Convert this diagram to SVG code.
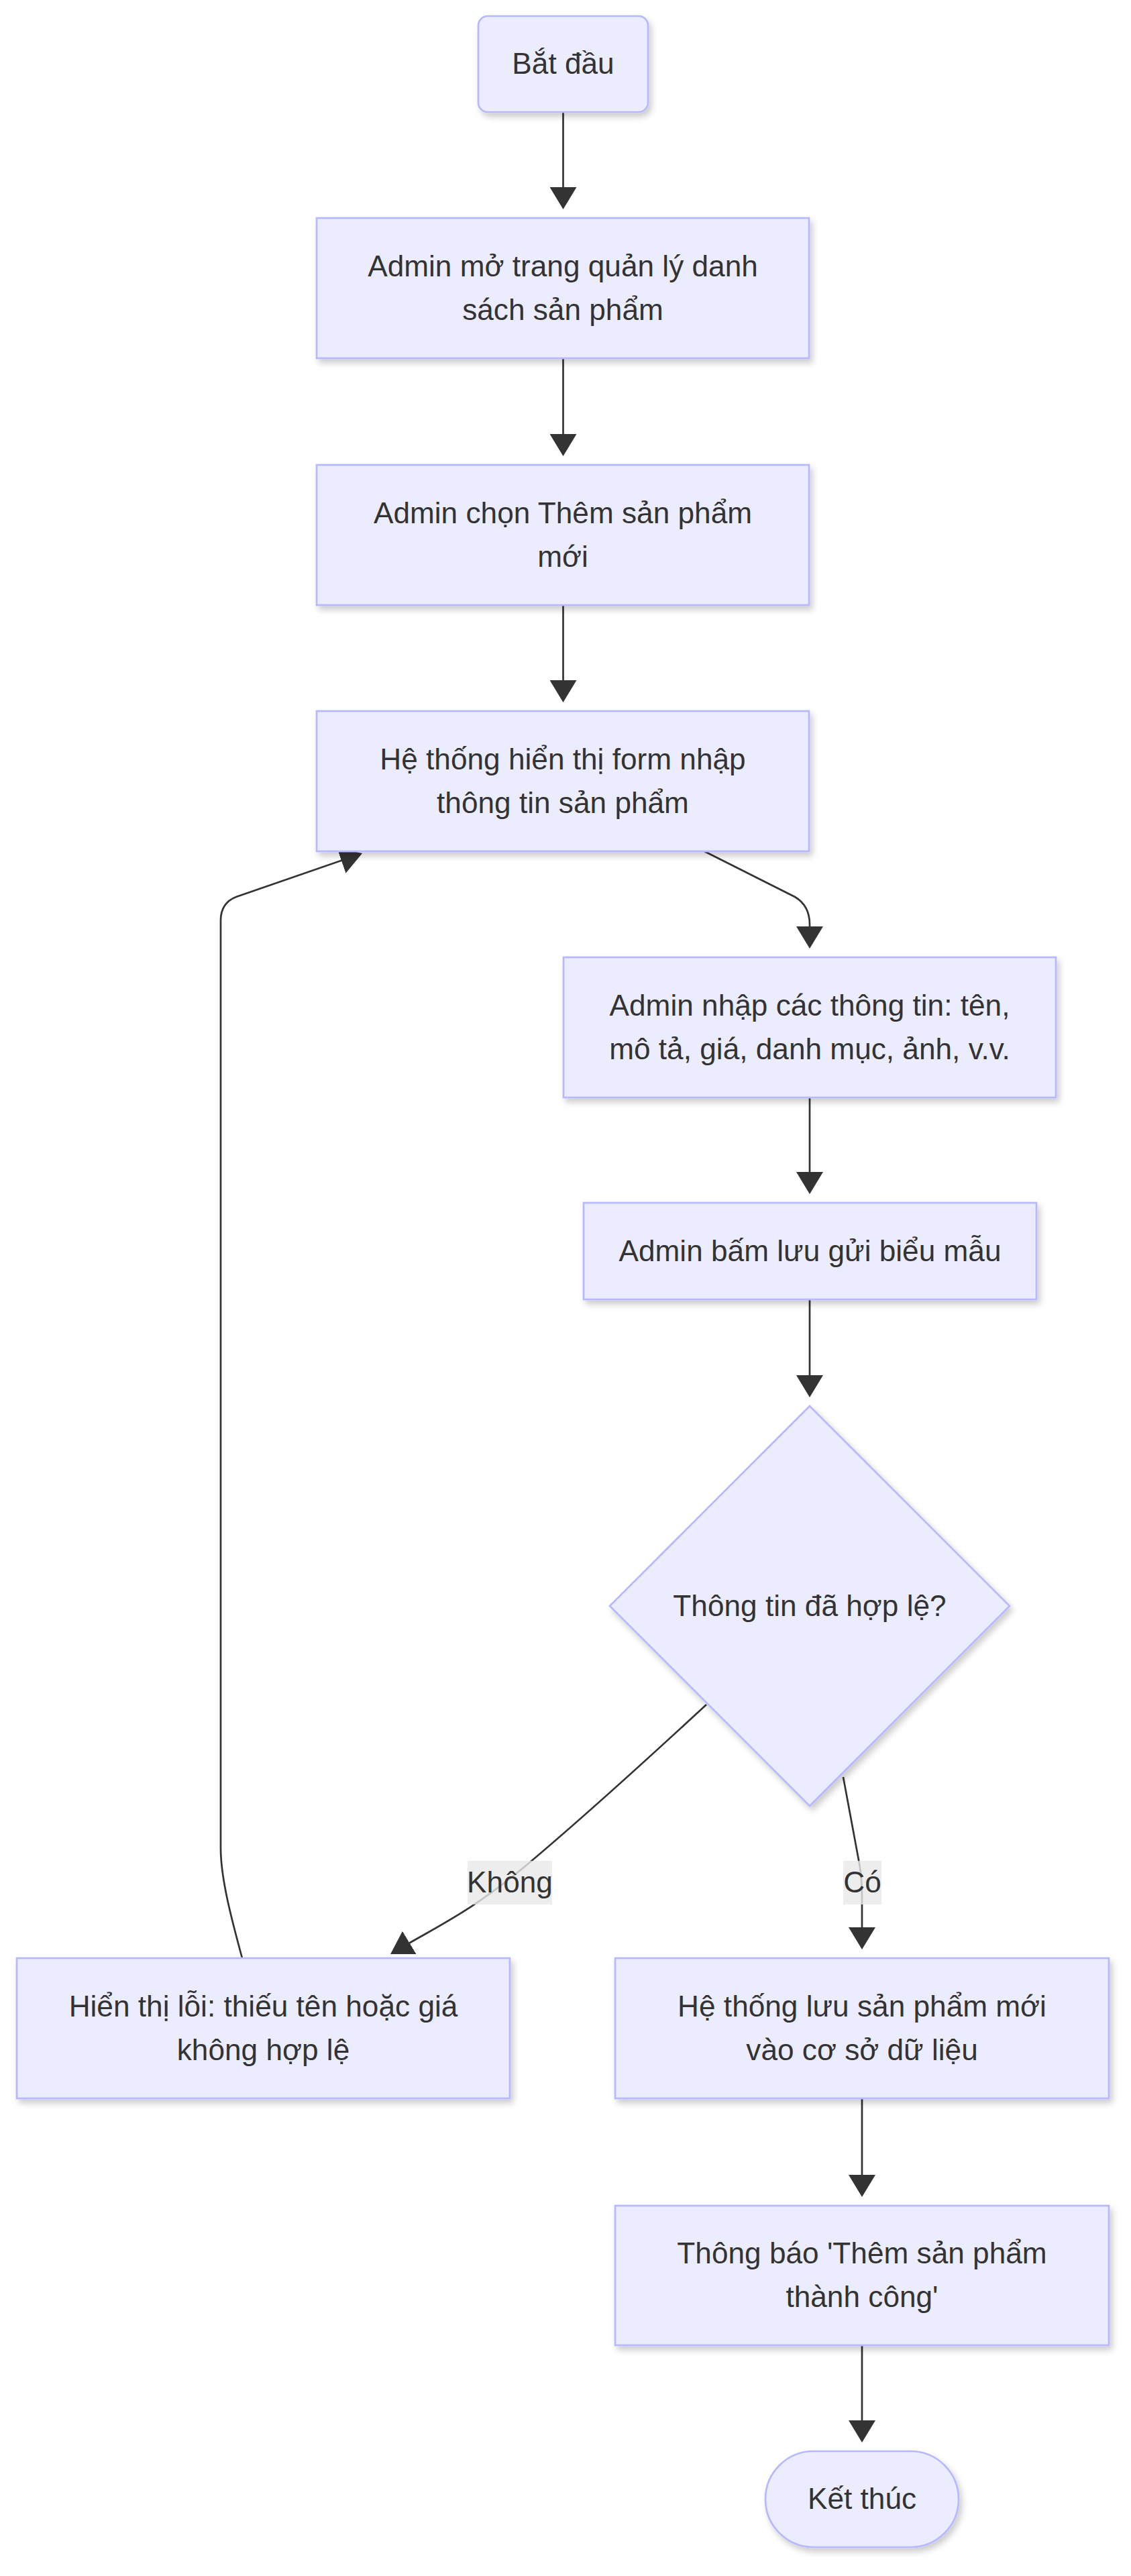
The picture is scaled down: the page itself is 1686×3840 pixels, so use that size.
<svg xmlns="http://www.w3.org/2000/svg" width="1686" height="3840" viewBox="0 0 1686 3840">
<style>
.node rect, .node polygon { fill: #ECECFF; stroke: #b8b8ff; stroke-width: 2.7; filter: url(#sh); }
.node text, .lbl text { font-family: "Liberation Sans", Arial, sans-serif; font-size: 44.2px; fill: #333333; text-anchor: middle; }
.edge { fill: none; stroke: #333333; stroke-width: 2.7; marker-end: url(#arr); }
.lbl rect { fill: #e8e8e8; fill-opacity: 0.8; }
</style>
<defs>
<filter id="sh" x="-10%" y="-10%" width="125%" height="135%">
<feDropShadow dx="4" dy="6" stdDeviation="5" flood-color="#000000" flood-opacity="0.2"/>
</filter>
<marker id="arr" viewBox="0 0 33 40" refX="28" refY="20" markerWidth="33" markerHeight="40" markerUnits="userSpaceOnUse" orient="auto">
<path d="M0,0 L33,20 L0,40 z" fill="#333333"/>
</marker>
</defs>
<rect width="1686" height="3840" fill="#ffffff"/>
<g id="connectors">
<path class="edge" d="M839.5,167 L839.5,307"/>
<path class="edge" d="M839.5,534 L839.5,675"/>
<path class="edge" d="M839.5,902 L839.5,1042"/>
<path class="edge" d="M1050,1269 L1185,1337 Q1207,1350 1207,1378 L1207,1409"/>
<path class="edge" d="M1207,1636 L1207,1775"/>
<path class="edge" d="M1207,1937 L1207,2078"/>
<path class="edge" d="M1053,2541 C960,2627 880,2700 790,2776 S650,2872 586.3,2910.4"/>
<path class="edge" d="M1257,2649 L1281,2778 Q1285,2800 1285,2830 L1285,2901"/>
<path class="edge" d="M361,2919 C345,2860 329,2800 329,2755 L329,1372 Q329,1346 352,1337 L535.3,1273.6"/>
<path class="edge" d="M1285,3128 L1285,3270"/>
<path class="edge" d="M1285,3496 L1285,3636"/>
</g>
<g id="edge-label-khong" class="lbl">
<rect x="697" y="2774" width="126" height="65"/>
<text x="760" y="2821">Không</text>
</g>
<g id="edge-label-co" class="lbl">
<rect x="1257" y="2774" width="57" height="65"/>
<text x="1285.5" y="2821">Có</text>
</g>
<g id="start" class="node">
<rect x="713" y="24" width="253" height="143" rx="14" ry="14"/>
<text x="839.5" y="110">Bắt đầu</text>
</g>
<g id="open-list" class="node">
<rect x="472" y="325" width="734" height="209"/>
<text x="839" y="411.5">Admin mở trang quản lý danh</text>
<text x="839" y="476.5">sách sản phẩm</text>
</g>
<g id="choose-add" class="node">
<rect x="472" y="693" width="734" height="209"/>
<text x="839" y="779.5">Admin chọn Thêm sản phẩm</text>
<text x="839" y="844.5">mới</text>
</g>
<g id="show-form" class="node">
<rect x="472" y="1060" width="734" height="209"/>
<text x="839" y="1146.5">Hệ thống hiển thị form nhập</text>
<text x="839" y="1211.5">thông tin sản phẩm</text>
</g>
<g id="enter-info" class="node">
<rect x="840" y="1427" width="734" height="209"/>
<text x="1207" y="1513.5">Admin nhập các thông tin: tên,</text>
<text x="1207" y="1578.5">mô tả, giá, danh mục, ảnh, v.v.</text>
</g>
<g id="submit" class="node">
<rect x="870" y="1793" width="675" height="144"/>
<text x="1207.5" y="1879.5">Admin bấm lưu gửi biểu mẫu</text>
</g>
<g id="valid" class="node">
<polygon points="1207,2096 1505,2394 1207,2692 909,2394"/>
<text x="1207" y="2408.5">Thông tin đã hợp lệ?</text>
</g>
<g id="error" class="node">
<rect x="25" y="2919" width="735" height="209"/>
<text x="392.5" y="3005.5">Hiển thị lỗi: thiếu tên hoặc giá</text>
<text x="392.5" y="3070.5">không hợp lệ</text>
</g>
<g id="save" class="node">
<rect x="917" y="2919" width="736" height="209"/>
<text x="1285" y="3005.5">Hệ thống lưu sản phẩm mới</text>
<text x="1285" y="3070.5">vào cơ sở dữ liệu</text>
</g>
<g id="notify" class="node">
<rect x="917" y="3288" width="736" height="208"/>
<text x="1285" y="3374">Thông báo 'Thêm sản phẩm</text>
<text x="1285" y="3439">thành công'</text>
</g>
<g id="end" class="node">
<rect x="1141" y="3654" width="288" height="143" rx="71.5" ry="71.5"/>
<text x="1285" y="3740">Kết thúc</text>
</g>
</svg>
